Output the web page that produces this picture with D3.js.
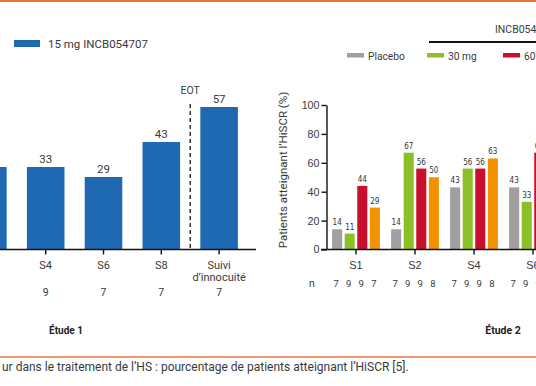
<!DOCTYPE html>
<html>
<head>
<meta charset="utf-8">
<script src="https://cdn.jsdelivr.net/npm/d3@7"></script>
<style>
  body { margin: 0; background: #fff; }
  svg { display: block; font-family: Roboto, "DejaVu Sans", sans-serif; }
  .axis path, .axis line { stroke: #111; stroke-width: 1.4; }
  .axis text { fill: #3a3a3a; font-size: 11px; }
</style>
</head>
<body>
<svg id="chart" width="536" height="386"></svg>
<script>
// Etude 1 (first bar is cut off on the left)
var etude1Labels = [["S2"], ["S4"], ["S6"], ["S8"], ["Suivi", "d’innocuité"]];
var etude1Values = [33, 33, 29, 43, 57];
var etude1N = ["9", "9", "7", "7", "7"];

// Etude 2 (last group partly cut off on the right)
var etude2Cats = ["S1", "S2", "S4", "S6"];
var etude2Series = ["Placebo", "30 mg", "60 mg", "90 mg"];
var placeboValues = [14, 14, 43, 43];
var mg30Values = [11, 67, 56, 33];
var mg60Values = [44, 56, 56, 67];
var mg90Values = [29, 50, 63, 57];
var placeboN = ["7", "7", "7", "7"];
var mg30N = ["9", "9", "9", "9"];
var mg60N = ["9", "9", "9", "9"];
var mg90N = ["7", "8", "8", "8"];
var yTicks = [0, 20, 40, 60, 80, 100];

var blue = "#1f69b3";
var colors = { "Placebo": "#a0a0a0", "30 mg": "#8dbf26", "60 mg": "#c8102e", "90 mg": "#f39200" };
var textColor = "#3a3a3a";

var svg = d3.select("#chart");

//orange frame lines + caption
svg.append("line")
    .attr("x1", 0).attr("x2", 536).attr("y1", 1).attr("y2", 1)
    .style("stroke", "#e5773c").style("stroke-width", 2);
svg.append("line")
    .attr("x1", 0).attr("x2", 536).attr("y1", 357).attr("y2", 357)
    .style("stroke", "#e5773c").style("stroke-width", 1.5);
svg.append("text")
    .attr("x", 2).attr("y", 371)
    .style("font-size", "12px").style("fill", textColor)
    .text("ur dans le traitement de l’HS : pourcentage de patients atteignant l’HiSCR [5].");

//ETUDE 1
var x1 = d3.scaleBand()
    .domain(d3.range(etude1Values.length))
    .range([-41, 248])
    .paddingInner(0.35)
    .paddingOuter(0.175);
var y1 = d3.scaleLinear().domain([0, 100]).range([249.5, -0.5]);
function cx1(i) { return x1(i) + x1.bandwidth() / 2; }
//labels of the bar that sits off the page are dropped
function offPage(d, i) { return cx1(i) < 0; }

var left = svg.append("g");

left.append("rect")
    .attr("x", 14).attr("y", 40).attr("width", 26).attr("height", 7)
    .style("fill", blue);
left.append("text")
    .attr("x", 48).attr("y", 47.5)
    .style("font-size", "11.5px").style("fill", textColor)
    .text("15 mg INCB054707");

left.selectAll(".bar1")
    .data(etude1Values)
  .enter().append("rect")
    .attr("class", "bar1")
    .attr("x", function(d, i) { return x1(i); })
    .attr("width", x1.bandwidth())
    .attr("y", function(d) { return y1(d); })
    .attr("height", function(d) { return y1(0) - y1(d); })
    .style("fill", blue);

left.selectAll(".val1")
    .data(etude1Values)
  .enter().append("text")
    .attr("class", "val1")
    .attr("x", function(d, i) { return cx1(i); })
    .attr("y", function(d) { return y1(d) - 4; })
    .style("text-anchor", "middle")
    .style("font-size", "11.5px").style("fill", textColor)
    .text(function(d) { return d; })
    .filter(offPage).remove();

var xAxis1 = left.append("g")
    .attr("class", "axis")
    .attr("transform", "translate(0," + y1(0) + ")")
    .call(d3.axisBottom(x1).tickSize(5).tickFormat(""));
xAxis1.select(".domain").attr("d", "M0,0H256");

left.selectAll(".cat1")
    .data(etude1Labels)
  .enter().append("text")
    .attr("class", "cat1")
    .attr("transform", function(d, i) { return "translate(" + cx1(i) + ",269)"; })
    .style("text-anchor", "middle")
    .style("font-size", "11px").style("fill", textColor)
    .filter(offPage).remove();

left.selectAll(".cat1")
    .selectAll("tspan")
    .data(function(d) { return d; })
  .enter().append("tspan")
    .attr("x", 0)
    .attr("dy", function(d, i) { return i ? 12 : 0; })
    .text(function(d) { return d; });

left.selectAll(".n1")
    .data(etude1N)
  .enter().append("text")
    .attr("class", "n1")
    .attr("x", function(d, i) { return cx1(i); })
    .attr("y", 296)
    .style("text-anchor", "middle")
    .style("font-size", "10.5px").style("fill", textColor)
    .text(function(d) { return d; })
    .filter(offPage).remove();

//EOT separator
var eotX = (x1(3) + x1(4) + x1.bandwidth()) / 2;
left.append("line")
    .attr("x1", eotX).attr("x2", eotX)
    .attr("y1", 104).attr("y2", y1(0))
    .style("stroke", "#111").style("stroke-width", 1.3)
    .style("stroke-dasharray", "4,3");
left.append("text")
    .attr("x", eotX).attr("y", 94)
    .style("text-anchor", "middle")
    .style("font-size", "10.5px").style("fill", textColor)
    .text("EOT");

left.append("text")
    .attr("x", 66).attr("y", 334)
    .style("text-anchor", "middle")
    .style("font-size", "10px").style("font-weight", "bold").style("fill", "#222")
    .text("Étude 1");

//ETUDE 2
var seriesValues = [placeboValues, mg30Values, mg60Values, mg90Values];
var seriesN = [placeboN, mg30N, mg60N, mg90N];
var rows = [];
etude2Cats.forEach(function(c, ci) {
    etude2Series.forEach(function(s, si) {
        rows.push({ cat: c, series: s, value: seriesValues[si][ci], n: seriesN[si][ci] });
    });
});

var x2 = d3.scaleBand()
    .domain(etude2Cats)
    .range([326.5, 562.5])
    .paddingInner(0.19)
    .paddingOuter(0.095);
var x2s = d3.scaleBand()
    .domain(etude2Series)
    .range([0, x2.bandwidth()])
    .paddingInner(0.2);
var y2 = d3.scaleLinear().domain([0, 100]).range([249.5, 105]);

var right = svg.append("g");

//legend header
right.append("text")
    .attr("x", 495).attr("y", 33)
    .style("font-size", "10.5px").style("fill", textColor)
    .text("INCB054707");
right.append("line")
    .attr("x1", 429).attr("x2", 600).attr("y1", 42).attr("y2", 42)
    .style("stroke", "#111").style("stroke-width", 2);

var legendX = [347, 427, 503, 580];
var legend = right.selectAll(".legend2")
    .data(etude2Series)
  .enter().append("g")
    .attr("class", "legend2")
    .attr("transform", function(d, i) { return "translate(" + legendX[i] + ",53)"; });
legend.append("rect")
    .attr("width", 17).attr("height", 4.5)
    .style("fill", function(d) { return colors[d]; });
legend.append("text")
    .attr("x", 21).attr("y", 6.5)
    .style("font-size", "10.2px").style("fill", textColor)
    .text(function(d) { return d; });

right.selectAll(".bar2")
    .data(rows)
  .enter().append("rect")
    .attr("class", "bar2")
    .attr("x", function(d) { return x2(d.cat) + x2s(d.series); })
    .attr("width", x2s.bandwidth())
    .attr("y", function(d) { return y2(d.value); })
    .attr("height", function(d) { return y2(0) - y2(d.value); })
    .style("fill", function(d) { return colors[d.series]; });

right.selectAll(".val2")
    .data(rows)
  .enter().append("text")
    .attr("class", "val2")
    .attr("x", function(d) { return x2(d.cat) + x2s(d.series) + x2s.bandwidth() / 2; })
    .attr("y", function(d) { return y2(d.value) - 4; })
    .style("text-anchor", "middle")
    .style("font-family", "'DejaVu Sans Condensed', 'Liberation Sans Narrow', sans-serif")
    .style("font-size", "8px").style("fill", "#333")
    .text(function(d) { return d.value; });

var yAxis2 = right.append("g")
    .attr("class", "axis")
    .attr("transform", "translate(326.5,0)")
    .call(d3.axisLeft(y2).tickValues(yTicks).tickSize(5).tickSizeOuter(0).tickPadding(2));
yAxis2.selectAll("text").style("font-size", "10.7px");

var xAxis2 = right.append("g")
    .attr("class", "axis")
    .attr("transform", "translate(0," + y2(0) + ")")
    .call(d3.axisBottom(x2).tickSize(5).tickSizeOuter(0).tickPadding(7));
xAxis2.select(".domain").attr("d", "M321,0H540");

right.append("text")
    .attr("transform", "translate(287,170) rotate(-90)")
    .style("text-anchor", "middle")
    .style("font-size", "11.5px").style("fill", textColor)
    .text("Patients atteignant l’HiSCR (%)");

right.append("text")
    .attr("x", 312).attr("y", 287)
    .style("text-anchor", "middle")
    .style("font-size", "10.5px").style("fill", textColor)
    .text("n");

right.selectAll(".n2")
    .data(rows)
  .enter().append("text")
    .attr("class", "n2")
    .attr("x", function(d) { return x2(d.cat) + x2s(d.series) + x2s.bandwidth() / 2 - 1; })
    .attr("y", 287)
    .style("text-anchor", "middle")
    .style("font-size", "9.5px").style("fill", textColor)
    .text(function(d) { return d.n; });

right.append("text")
    .attr("x", 503).attr("y", 334)
    .style("text-anchor", "middle")
    .style("font-size", "10.5px").style("font-weight", "bold").style("fill", "#222")
    .text("Étude 2");
</script>
</body>
</html>
